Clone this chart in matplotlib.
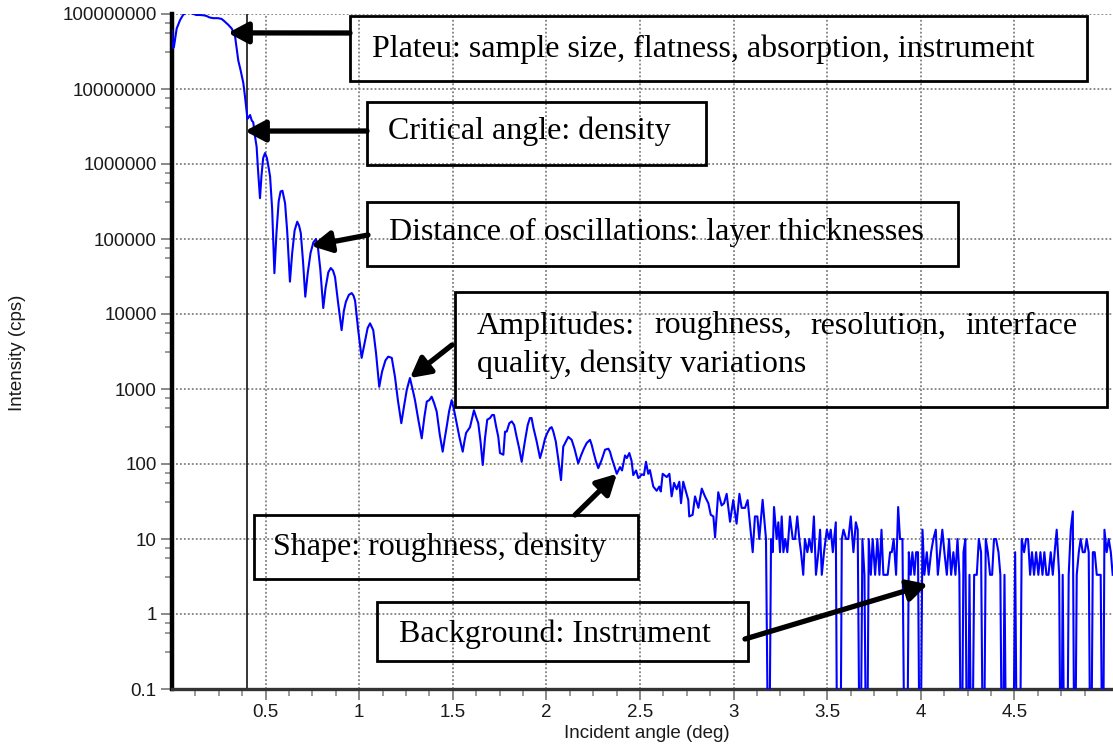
import numpy as np
import matplotlib
matplotlib.use("Agg")
import matplotlib.pyplot as plt
from matplotlib.patches import Rectangle
from matplotlib.ticker import FixedLocator, FixedFormatter

# reflectivity scan (angle in deg, intensity in cps; 0 = no counts)
angle = [
    0.000, 0.004, 0.010, 0.025, 0.043, 0.060, 0.075, 0.095, 0.115, 0.130, 0.150, 0.170, 0.185, 0.200,
    0.220, 0.245, 0.265, 0.280, 0.300, 0.319, 0.337, 0.354, 0.366, 0.381, 0.390, 0.397, 0.403, 0.410,
    0.417, 0.426, 0.434, 0.445, 0.452, 0.460, 0.470, 0.478, 0.487, 0.497, 0.507, 0.516, 0.524, 0.535,
    0.547, 0.558, 0.570, 0.580, 0.590, 0.604, 0.615, 0.630, 0.642, 0.655, 0.669, 0.679, 0.688, 0.700,
    0.712, 0.725, 0.740, 0.755, 0.769, 0.780, 0.792, 0.808, 0.820, 0.835, 0.848, 0.860, 0.871, 0.886,
    0.906, 0.918, 0.929, 0.945, 0.960, 0.970, 0.978, 0.995, 1.013, 1.030, 1.045, 1.058, 1.075, 1.090,
    1.107, 1.122, 1.140, 1.155, 1.174, 1.191, 1.207, 1.225, 1.240, 1.254, 1.271, 1.285, 1.298, 1.315,
    1.334, 1.348, 1.361, 1.374, 1.387, 1.400, 1.414, 1.430, 1.446, 1.457, 1.467, 1.480, 1.494, 1.505,
    1.517, 1.535, 1.553, 1.562, 1.571, 1.592, 1.613, 1.625, 1.636, 1.648, 1.660, 1.672, 1.684, 1.699,
    1.710, 1.720, 1.731, 1.743, 1.752, 1.770, 1.779, 1.788, 1.802, 1.815, 1.828, 1.841, 1.855, 1.868,
    1.885, 1.900, 1.912, 1.921, 1.930, 1.948, 1.966, 1.980, 1.993, 2.005, 2.019, 2.028, 2.037, 2.050,
    2.064, 2.078, 2.090, 2.100, 2.117, 2.126, 2.135, 2.150, 2.170, 2.185, 2.200, 2.215, 2.233, 2.242,
    2.251, 2.264, 2.277, 2.295, 2.313, 2.331, 2.340, 2.349, 2.362, 2.376, 2.393, 2.404, 2.420, 2.430,
    2.443, 2.455, 2.464, 2.479, 2.491, 2.500, 2.509, 2.521, 2.532, 2.544, 2.553, 2.571, 2.589, 2.603,
    2.611, 2.621, 2.643, 2.657, 2.669, 2.682, 2.696, 2.710, 2.719, 2.731, 2.749, 2.758, 2.763, 2.781,
    2.794, 2.812, 2.830, 2.847, 2.865, 2.878, 2.892, 2.901, 2.918, 2.936, 2.949, 2.963, 2.981, 2.998,
    3.016, 3.031, 3.043, 3.061, 3.075, 3.102, 3.114, 3.127, 3.137, 3.155, 3.173, 3.188, 3.200, 3.209,
    3.216, 3.230, 3.239, 3.248, 3.257, 3.266, 3.276, 3.287, 3.301, 3.316, 3.328, 3.340, 3.351, 3.360,
    3.372, 3.381, 3.394, 3.405, 3.417, 3.429, 3.440, 3.453,
    3.462, 3.471, 3.483, 3.498, 3.510, 3.519, 3.530, 3.546, 3.555, 3.569, 3.578, 3.587, 3.601, 3.613,
    3.626, 3.640, 3.653, 3.663, 3.676, 3.688, 3.699, 3.711, 3.722, 3.733, 3.743, 3.756, 3.768, 3.779,
    3.790, 3.800, 3.813, 3.823, 3.836, 3.845, 3.855, 3.868, 3.879, 3.889, 3.902, 3.916, 3.925, 3.936,
    3.946, 3.955, 3.966, 3.975, 3.985, 3.996, 4.009, 4.019, 4.032, 4.042, 4.055, 4.067, 4.080, 4.091,
    4.103, 4.115, 4.126, 4.139, 4.151, 4.162, 4.174, 4.185, 4.196, 4.206, 4.217, 4.228, 4.238, 4.249,
    4.260, 4.272, 4.285, 4.299, 4.310, 4.322, 4.335, 4.347, 4.358, 4.370, 4.381, 4.391, 4.402, 4.415,
    4.425, 4.436, 4.447, 4.459, 4.470, 4.481, 4.491, 4.504, 4.516, 4.527, 4.539, 4.552, 4.562, 4.573,
    4.584, 4.594, 4.605, 4.616, 4.628, 4.639, 4.650, 4.660, 4.671, 4.682, 4.694, 4.705, 4.715, 4.726,
    4.739, 4.749, 4.758, 4.769, 4.780, 4.790, 4.801, 4.812, 4.822, 4.833, 4.844, 4.854, 4.865, 4.876,
    4.886, 4.897, 4.908, 4.919, 4.929, 4.940, 4.951, 4.961, 4.972, 4.981, 4.993, 5.004, 5.015, 5.025,
]
intensity = [
    6.0e7, 3.5e7, 3.6e7, 6.4e7, 8.3e7, 9.8e7, 1.03e8, 1.04e8, 1.0e8, 9.7e7, 9.7e7, 9.6e7, 9.4e7, 9.0e7,
    8.8e7, 8.8e7, 8.6e7, 8.0e7, 7.2e7, 6.4e7, 5.0e7, 2.4e7, 1.8e7, 1.2e7, 7.9e6, 5.5e6, 4.0e6, 4.2e6,
    4.5e6, 3.8e6, 3.6e6, 2.2e6, 1.7e6, 8.0e5, 3.5e5, 7.0e5, 1.2e6, 1.4e6, 1.2e6, 9.0e5, 6.8e5, 2.5e5,
    3.5e4, 1.2e5, 3.2e5, 4.3e5, 4.4e5, 3.0e5, 1.3e5, 2.7e4, 6.5e4, 1.3e5, 1.7e5, 1.5e5, 1.2e5, 5.0e4,
    1.7e4, 3.5e4, 6.5e4, 9.0e4, 1.0e5, 7.5e4, 4.0e4, 1.2e4, 2.2e4, 3.6e4, 4.1e4, 3.8e4, 3.1e4, 1.5e4,
    6.1e3, 1.1e4, 1.46e4, 1.8e4, 1.9e4, 1.75e4, 1.5e4, 6.0e3, 2.6e3, 4.2e3, 6.5e3, 7.5e3, 6.1e3, 3.0e3,
    1.07e3, 1.7e3, 2.4e3, 2.7e3, 2.6e3, 1.46e3, 700, 350, 600, 970, 1400, 1000, 710, 400,
    220, 420, 680, 710, 790, 650, 500, 250, 146, 220, 310, 500, 710, 550,
    390, 230, 146, 200, 260, 310, 520, 420, 350, 200, 97, 220, 390, 410,
    450, 450, 320, 230, 140, 133, 270, 270, 350, 370, 330, 230, 160, 107,
    200, 330, 410, 410, 310, 200, 120, 160, 220, 260, 300, 310, 270, 200,
    113, 61, 170, 190, 230, 220, 210, 160, 102, 130, 160, 190, 210, 180,
    146, 110, 88, 113, 155, 160, 145, 120, 95, 74, 91, 82, 130, 120,
    140, 110, 71, 82, 65, 68, 73, 71, 107, 74, 83, 50, 44, 50,
    43, 74, 67, 74, 37, 56, 46, 58, 30, 58, 40, 33, 20, 21,
    37, 26, 47, 37, 30, 21, 20, 10.5, 42, 28, 30, 40, 17, 33,
    16, 40, 26, 26, 33, 6.67, 20, 20, 10, 33.3, 10, 0, 10, 6.67,
    26.7, 10, 16.7, 6.67, 20, 6.67, 10, 6.67, 20, 10, 10, 20, 10, 6.67,
    3.33, 10, 6.67, 10, 6.67, 20, 3.33, 6.67,
    13.3, 3.33, 6.67, 13.3, 10, 13.3, 6.67, 16.7, 0, 0, 10, 13.3, 10, 10,
    20, 6.67, 16.7, 13.3, 0, 10, 3.33, 0, 10, 3.33, 10, 3.33, 10, 3.33,
    13.3, 3.33, 3.33, 3.33, 6.67, 6.67, 10, 3.33, 26.7, 10, 10, 0, 0, 6.67,
    3.33, 6.67, 3.33, 6.67, 6.67, 0, 13.3, 3.33, 6.67, 3.33, 6.67, 10, 13.3, 3.33,
    6.67, 13.3, 6.67, 3.33, 10, 3.33, 6.67, 3.33, 10, 3.33, 0, 6.67, 10, 0,
    3.33, 0, 3.33, 3.33, 10, 6.67, 0, 10, 6.67, 3.33, 3.33, 10, 10, 6.67,
    3.33, 0, 3.33, 0, 0, 0, 0, 6.67, 0, 0, 10, 6.67, 10, 10,
    3.33, 6.67, 3.33, 6.67, 3.33, 6.67, 3.33, 6.67, 3.33, 3.33, 6.67, 3.33, 6.67, 13.3,
    3.33, 0, 3.33, 0, 0, 3.33, 13.3, 23.3, 0, 3.33, 6.67, 10, 6.67, 6.67,
    10, 6.67, 0, 6.67, 6.67, 3.33, 3.33, 3.33, 0, 13.3, 6.67, 10, 6.67, 3.33,
]

y_ticks = [0.1, 1, 10, 100, 1000, 10000, 100000, 1000000, 10000000, 100000000]
y_tick_labels = ["0.1", "1", "10", "100", "1000", "10000", "100000", "1000000",
                 "10000000", "100000000"]
x_ticks = [0.5, 1, 1.5, 2, 2.5, 3, 3.5, 4, 4.5]
x_tick_labels = ["0.5", "1", "1.5", "2", "2.5", "3", "3.5", "4", "4.5"]
critical_angle = 0.4

W, H = 1113, 745
fig = plt.figure(figsize=(W / 100, H / 100), dpi=100)
ax = fig.add_axes([172 / W, 56 / H, (W - 172) / W, 675 / H])

y = np.array(intensity, dtype=float)
y = np.where(y > 0, y, 1e-3)  # zero counts fall off the bottom
ax.plot(angle, y, color="#0000ff", lw=1.5, zorder=3)
ax.axvline(critical_angle, color="black", lw=1.1, zorder=2)

ax.set_yscale("log")
ax.set_xlim(0, (W - 172) / 187.2)
ax.set_ylim(0.1, 1e8)

ax.yaxis.set_major_locator(FixedLocator(y_ticks))
ax.yaxis.set_major_formatter(FixedFormatter(y_tick_labels))
minor_y = [t * f for t in y_ticks[:-1] for f in (10 ** 0.5, 10 ** 0.75, 10 ** 0.875)]
ax.yaxis.set_minor_locator(FixedLocator(minor_y))
ax.yaxis.set_minor_formatter(FixedFormatter([]))
ax.xaxis.set_major_locator(FixedLocator(x_ticks))
ax.xaxis.set_major_formatter(FixedFormatter(x_tick_labels))
ax.xaxis.set_minor_locator(FixedLocator(np.arange(0.125, 5.0, 0.125)))

for lab in ax.get_xticklabels() + ax.get_yticklabels():
    lab.set_fontfamily("Liberation Sans")
ax.tick_params(which="major", length=8, width=1.3, color="#808080", labelsize=13.5,
               labelcolor="#1a1a1a", pad=3)
ax.tick_params(which="minor", length=5, width=1.1, color="#808080")

ax.grid(True, which="major", color="#808080", lw=1.3, linestyle=(0, (1, 1.2)))
for side in ("top", "right"):
    ax.spines[side].set_visible(False)
ax.spines["left"].set_linewidth(3.2)
ax.spines["left"].set_color("black")
ax.spines["bottom"].set_linewidth(2.4)
ax.spines["bottom"].set_color("#333333")

fig.text(18 / W, 1 - 353 / H, "Intensity (cps)", rotation=90, ha="center", va="center",
         fontsize=13.5, family="Liberation Sans", color="#1a1a1a")
fig.text(647 / W, 1 - 733 / H, "Incident angle (deg)", ha="center", va="center",
         fontsize=13.5, family="Liberation Sans", color="#1a1a1a")


def box(x0, y0, x1, y1):
    fig.add_artist(Rectangle((x0 / W, 1 - y1 / H), (x1 - x0) / W, (y1 - y0) / H,
                             transform=fig.transFigure, fill=False, ec="black", lw=2, zorder=5))


def label(px, py, s):
    return fig.text(px / W, 1 - py / H, s, ha="left", va="center", fontsize=23,
                    family="Liberation Serif", zorder=6)


def arrow(tail_px, tip_data):
    ax.annotate("", xy=tip_data, xycoords="data",
                xytext=(tail_px[0], H - tail_px[1]), textcoords="figure pixels",
                arrowprops=dict(arrowstyle="-|>,head_length=0.6,head_width=0.32", lw=3.8,
                                color="black", shrinkA=0, shrinkB=0, mutation_scale=20),
                annotation_clip=False, zorder=7)


box(350, 16, 1087, 81)
label(372, 49, "Plateu: sample size, flatness, absorption, instrument")
arrow((350, 33), (0.299, 5.6e7))

box(367, 102, 706, 165)
label(388, 131, "Critical angle: density")
arrow((367, 131), (0.39, 2.75e6))

box(367, 202, 958, 266)
label(389, 232, "Distance of oscillations: layer thicknesses")
arrow((368, 235), (0.7425, 8.1e4))

box(455, 292, 1107, 407)
words = ["Amplitudes:", "roughness,", "resolution,", "interface"]
texts = [label(477, 326, w) for w in words]
fig.canvas.draw()
r = fig.canvas.get_renderer()
widths = [t.get_window_extent(r).width for t in texts]
gap = (1077 - 477 - sum(widths)) / (len(words) - 1)
xpos = 477
for t, w in zip(texts, widths):
    t.set_x(xpos / W)
    xpos += w + gap
label(477, 364, "quality, density variations")
arrow((452, 345), (1.271, 1.4e3))

box(254, 515, 638, 579)
label(273, 547, "Shape: roughness, density")
arrow((575, 515), (2.377, 74))

box(377, 602, 748, 661)
label(399, 634, "Background: Instrument")
arrow((745, 639), (4.038, 2.5))

fig.savefig("out.png", dpi=100)
